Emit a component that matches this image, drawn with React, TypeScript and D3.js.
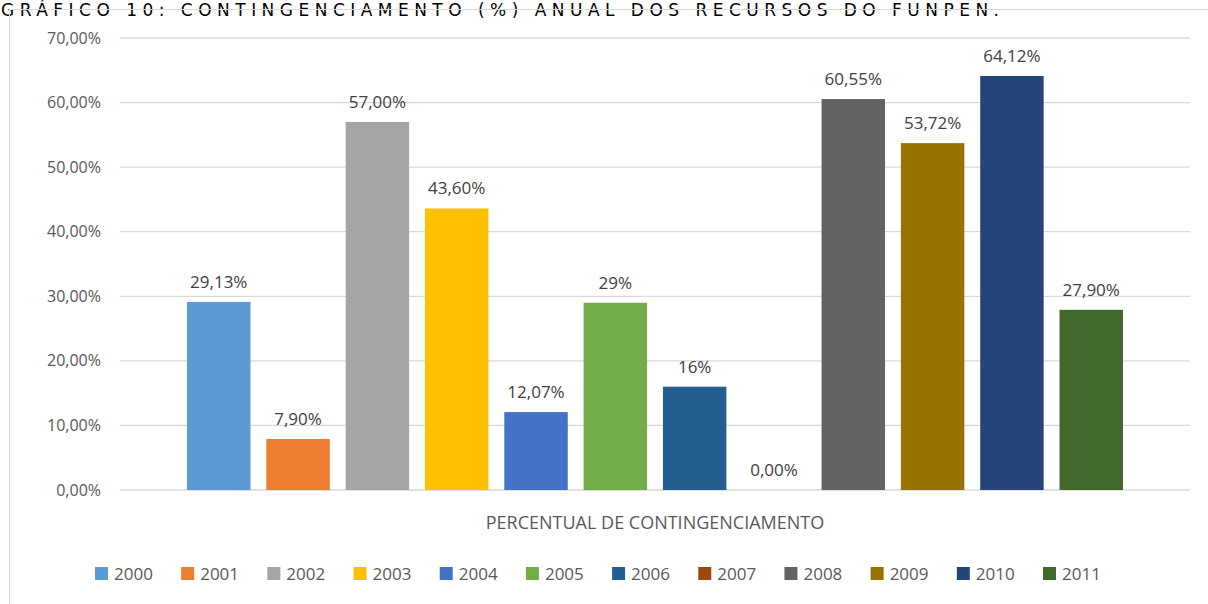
import React from "react";
import * as d3 from "d3";

const years = ["2000","2001","2002","2003","2004","2005","2006","2007","2008","2009","2010","2011"];
const values = [29.13, 7.9, 57.0, 43.6, 12.07, 29, 16, 0, 60.55, 53.72, 64.12, 27.9];
const labels = ["29,13%","7,90%","57,00%","43,60%","12,07%","29%","16%","0,00%","60,55%","53,72%","64,12%","27,90%"];
const colors = ["#5B9BD5","#ED7D31","#A5A5A5","#FFC000","#4472C4","#70AD47","#255E91","#9E480E","#636363","#997300","#264478","#43682B"];
const yTicks = [0,10,20,30,40,50,60,70];
const tickLabels = ["0,00%","10,00%","20,00%","30,00%","40,00%","50,00%","60,00%","70,00%"];
const title = "GRÁFICO 10: CONTINGENCIAMENTO (%) ANUAL DOS RECURSOS DO FUNPEN.";
const axisTitle = "PERCENTUAL DE CONTINGENCIAMENTO";

export default function App() {
  const W = 1208, H = 604;
  const x = d3.scaleBand<string>().domain(years).range([120, 1190]).paddingInner(0.2).paddingOuter(0.845);
  const y = d3.scaleLinear().domain([0, 70]).range([490, 38]);
  const font = "'Open Sans', 'Noto Sans', sans-serif";
  const legendX = d3.scaleLinear().domain([0, 11]).range([95, 1043]);
  return (
    <svg width={W} height={H} style={{ position: "absolute", left: 0, top: 0, background: "#fff" }} fontFamily={font}>
      <rect x={0} y={0} width={W} height={H} fill="#fff" />
      <text x={1} y={16} fontSize={17} fill="#000" fontFamily="'DejaVu Sans', sans-serif" textLength={998} lengthAdjust="spacing">{title}</text>
      <rect x={9.5} y={9.5} width={W + 10} height={H + 10} fill="none" stroke="#D9D9D9" strokeWidth={1} />
      {yTicks.map((t, i) => (
        <g key={t}>
          <line x1={120} x2={1190} y1={y(t)} y2={y(t)} stroke="#D9D9D9" strokeWidth={1.3} />
          <text x={101} y={y(t)} dy="0.35em" textAnchor="end" fontSize={16} fill="#595959">{tickLabels[i]}</text>
        </g>
      ))}
      {years.map((yr, i) => (
        <g key={yr}>
          <rect x={x(yr)} y={y(values[i])} width={x.bandwidth()} height={y(0) - y(values[i])} fill={colors[i]} />
          <text x={(x(yr) as number) + x.bandwidth() / 2} y={y(values[i]) - 14} textAnchor="middle" fontSize={17} fill="#404040">{labels[i]}</text>
        </g>
      ))}
      <text x={655} y={529} textAnchor="middle" fontSize={18} fill="#595959">{axisTitle}</text>
      {years.map((yr, i) => (
        <g key={"l" + yr} transform={`translate(${legendX(i)},567)`}>
          <rect x={0} y={0} width={13} height={13} fill={colors[i]} />
          <text x={19} y={7} dy="0.35em" fontSize={17} fill="#595959">{yr}</text>
        </g>
      ))}
    </svg>
  );
}
